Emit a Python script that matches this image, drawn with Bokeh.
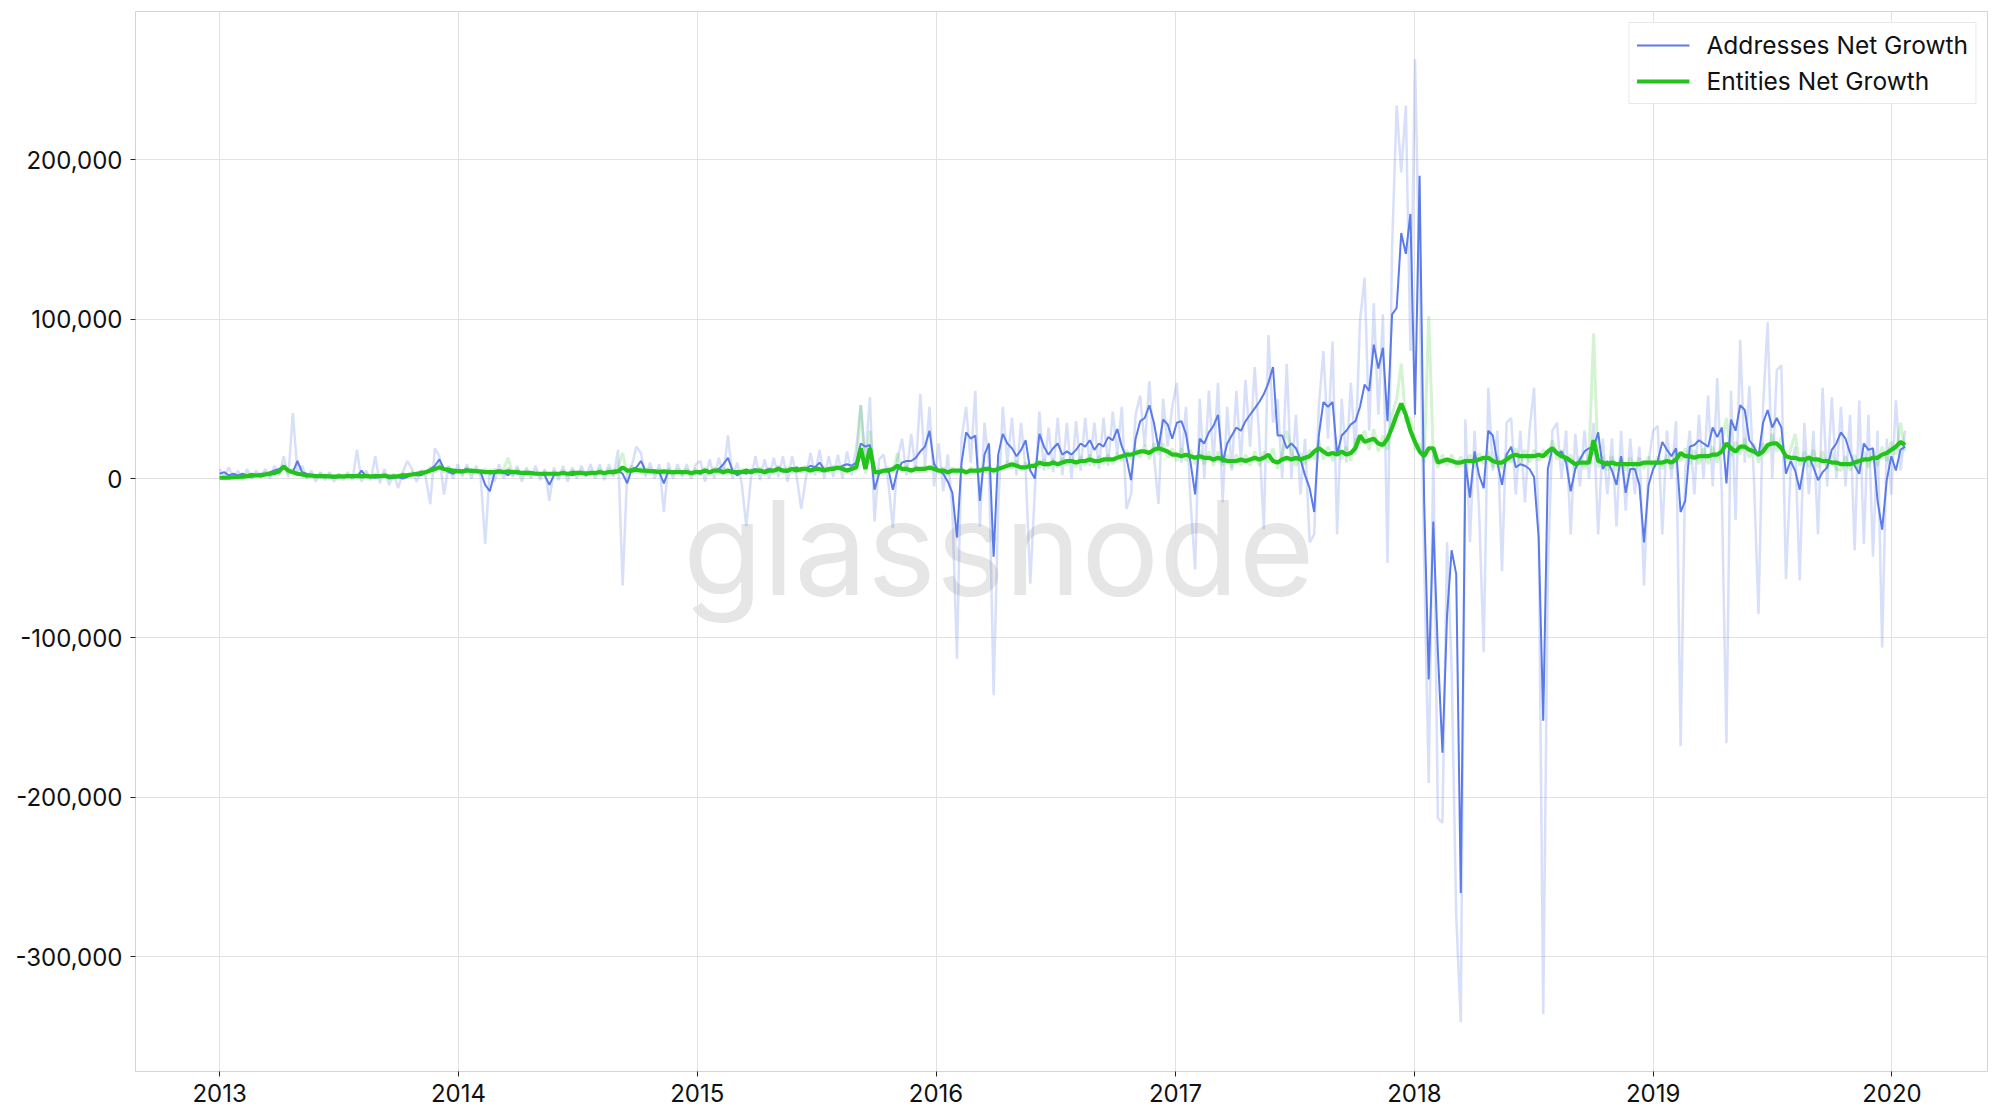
from datetime import datetime
import pandas as pd
from bokeh.plotting import figure
from bokeh.models import (Range1d, FixedTicker, NumeralTickFormatter, DatetimeTickFormatter,
                          Label, Legend, LegendItem)
from bokeh.embed import file_html
from bokeh.resources import INLINE

# ---------------- data (weekly samples from 2013-01-01, values in thousands) ----------------
START = "2013-01-01"
years = [2013, 2014, 2015, 2016, 2017, 2018, 2019, 2020]
y_ticks = [-300000, -200000, -100000, 0, 100000, 200000]
series_names = ["Addresses Net Growth", "Entities Net Growth"]
watermark = "glassnode"

# smoothed addresses net growth (k)
addr_ma_k = [
    3, 4, 2, 3, 2, 3, 2, 3, 2, 3,
    3, 4, 5, 6, 8, 5, 4, 11, 4, 3,
    2, 1.5, 1, 1, 1, 0.5, 1, 1, 1, 1,
    1, 5, 1, 1, 0.5, 1, 2, 0, 0.5, 1,
    0, 1, 3, 2, 2, 4, 6, 8, 12, 6,
    4, 3, 5,
    5, 6, 4, 5, 4, -4, -8, 3, 5, 4,
    2, 5, 3, 4, 3, 4, 3, 3, 2, -4,
    2, 3, 3, 3, 2, 3, 3, 4, 3, 4,
    4, 3, 4, 5, 5, 3, -3, 6, 7, 11,
    5, 5, 5, 4, -3, 5, 4, 4, 4, 4, 4, 4,
    3, 5, 4, 5, 6, 9, 13, 5, 2, 4,
    3, 5, 6, 4, 5, 6, 5, 7, 5, 4,
    6, 7, 5, 6, 8, 7, 10, 6, 5, 7,
    6, 8, 9, 8, 10, 22, 20, 21, -7, 3,
    5, 6, -7, 5, 10, 11, 11, 13, 17, 20, 30, 9,
    5, 3, -2, -9, -37, 10, 29, 25, 27, -14,
    15, 22, -49, 15, 28, 22, 19, 14, 18, 24,
    5, 0, 28, 20, 15, 19, 22, 15, 17, 15,
    18, 22, 20, 24, 18, 22, 20, 26, 24, 31,
    20, 13, -1, 25, 36, 38, 46, 35, 19, 37, 34, 25,
    35, 36, 28, 10, -10, 25, 22, 29, 33, 40,
    10, 22, 27, 32, 30, 36, 40, 44, 48, 53,
    60, 70, 27, 27, 19, 22, 19, 12, 2, -6,
    -21, 27, 48, 45, 48, 15, 27, 30, 34, 36,
    45, 59, 55, 84, 69, 82, 36, 103, 107, 154, 141, 166, 40,
    190, -14, -126, -27, -109, -172, -86, -45, -60, -260,
    10, -12, 17, 2, -6, 30, 27, 10, -4, 15,
    20, 7, 9, 8, 6, 1, -37, -152, 6, 19,
    15, 17, 10, -8, 6, 12, 17, 19, 19, 29,
    6, 11, 5, -4, 14, -9, 6, 6, -4, -40, -4, 6,
    11, 23, 18, 14, 19, -21, -14, 20, 21, 24,
    22, 20, 32, 26, 32, -3, 37, 30, 46, 43,
    24, 20, 14, 35, 43, 32, 38, 32, 3, 11,
    5, -7, 10, 14, 7, -1, 4, 7, 18, 22,
    29, 25, 16, 8, 3, 22, 18, 19, -14, -32, -1, 14, 5, 18, 20,
]

# smoothed entities net growth (k)
ent_ma_k = [
    0.5, 0.5, 0.6, 0.8, 1, 1.2, 1.5, 1.8, 2, 2,
    2.5, 3, 3.5, 4.5, 7.5, 5, 4, 3, 2.5, 2,
    1.8, 1.6, 1.5, 1.5, 1.4, 1.2, 1.3, 1.4, 1.5, 1.5,
    1.5, 1.6, 1.5, 1.4, 1.5, 1.6, 1.8, 1.2, 1.2, 1.5,
    2, 2.2, 2.5, 3, 3.5, 4, 5, 6, 7, 6,
    5.5, 5, 4.5,
    4.5, 5, 5, 4.5, 4.5, 4, 4, 4, 4.5, 4,
    4.5, 4, 4, 3.5, 3.5, 3.5, 3, 3, 3, 3,
    3, 3, 3.5, 3, 3.5, 3.5, 3.5, 3, 3.5, 3.5,
    4, 3.5, 4, 4, 4.5, 7, 5, 5, 5.5, 5,
    5, 4.5, 4.5, 4, 4.5, 4, 4, 4, 4, 4, 3.5, 4,
    4, 5, 4, 5, 5, 4, 5, 4, 4, 4,
    5, 4, 5, 5, 4, 5, 5, 6, 5, 5,
    6, 5, 6, 6, 5, 6, 6, 5, 6, 6,
    7, 6, 5, 6, 7, 19, 6, 19, 4, 4,
    5, 5, 6, 8, 6, 6, 5, 6, 6, 6, 7, 6,
    5, 5, 4, 5, 5, 5, 4, 5, 5, 5,
    6, 6, 5, 6, 7, 8, 9, 8, 7, 7,
    8, 8, 10, 9, 9, 10, 9, 10, 11, 11,
    10, 11, 11, 12, 11, 11, 12, 12, 12, 13,
    14, 15, 15, 16, 17, 17, 16, 18, 19, 18, 17, 15,
    15, 14, 15, 14, 13, 14, 13, 13, 12, 13,
    12, 11, 11, 11, 12, 11, 12, 13, 12, 13,
    15, 11, 10, 12, 13, 12, 13, 12, 13, 14,
    17, 19, 17, 15, 16, 15, 17, 15, 16, 19,
    27, 23, 24, 25, 22, 21, 25, 32, 40, 47, 40, 30, 23,
    17, 14, 19, 19, 10, 11, 12, 11, 10, 10,
    11, 11, 11, 12, 13, 13, 11, 10, 10, 12,
    14, 15, 14, 14, 14, 14, 15, 14, 17, 19,
    16, 14, 13, 11, 9, 10, 10, 10, 24, 11,
    10, 9, 10, 9, 9, 9, 9, 9, 9, 10, 10, 10,
    10, 10, 11, 10, 12, 16, 14, 14, 13, 14,
    14, 14, 15, 15, 17, 22, 19, 17, 20, 20,
    18, 17, 15, 17, 21, 22, 22, 19, 14, 13,
    13, 12, 12, 13, 12, 12, 11, 11, 10, 10,
    9, 9, 9, 10, 11, 12, 12, 13, 13, 15, 16, 18, 20, 23, 21,
]

# raw (unsmoothed) addresses net growth (k)
addr_raw_k = [
    6, 1, 7, 0, 5, -1, 6, 0, 5, 1,
    6, 0, 8, 2, 14, 1, 41, 4, 8, 0,
    5, -2, 4, -1, 4, -2, 3, -1, 4, -1,
    18, -2, 5, -1, 14, -3, 6, -4, 3, -6,
    4, 11, 6, -2, 5, 1, -16, 19, 14, -10,
    8, 0, 9,
    1, 9, 0, 8, 1, -41, 6, -2, 9, 0,
    7, 1, 8, -2, 7, 0, 8, -1, 6, -14,
    7, -1, 8, -2, 7, 0, 8, 1, 9, 0,
    9, -1, 9, 1, 18, -67, 4, 8, 20, 16,
    1, 10, 0, 9, -21, 10, 0, 9, 1, 9, 0, 9,
    11, -2, 12, 0, 13, 2, 27, 0, 10, -3,
    -30, 0, 14, -1, 12, 0, 13, 1, 14, -2,
    14, 1, -19, 0, 16, 2, 18, 0, 14, 1,
    15, 0, 17, 2, 19, 46, 12, 51, -27, 12,
    15, -2, -31, 12, 25, 2, 28, 5, 53, 8, 45, -5,
    22, -8, 15, -20, -113, 25, 45, 10, 55, -30,
    35, 8, -136, -20, 45, 10, 38, 2, 35, 5,
    -66, -8, 42, 5, 32, 4, 38, 2, 35, 0,
    36, 5, 38, 8, 35, 6, 38, 8, 42, 15,
    45, -19, -10, 40, 52, 20, 61, 15, -16, 50, 20, 45,
    60, 10, 45, -15, -57, 50, 0, 55, 10, 60,
    -15, 45, 5, 55, 10, 62, 20, 70, 25, -32,
    90, 35, 50, 0, 72, 0, 40, -10, 25, -40,
    -35, 45, 80, 25, 86, -35, 50, 10, 60, 15,
    99, 126, 30, 110, 40, 103, -53, 145, 234, 192, 234, 80, 263,
    120, -50, -191, 15, -213, -216, -40, -120, -274, -341,
    37, -40, 30, -20, -109, 57, 5, 30, -58, 35,
    38, -10, 30, -15, 30, 57, -30, -336, -60, 30,
    35, 0, 30, -35, 28, -5, 30, 0, 35, -35,
    25, -10, 25, -30, 30, -20, 25, -10, 20, -67, 10, 30,
    33, -35, 30, 0, 36, -168, 5, 30, -10, 40,
    0, 52, -5, 63, -10, -166, 55, -26, 87, 10,
    58, 0, -85, 45, 98, 0, 68, 71, -63, 5,
    20, -64, 35, -10, 30, -35, 57, -5, 51, 0,
    45, -5, 40, -45, 49, -41, 40, -49, 30, -106, 25, -10, 49, 5, 30,
]

# raw (unsmoothed) entities net growth (k)
ent_raw_k = [
    1.5, -0.5, 2, 0, 2, 0.5, 3, 0.5, 3, 1,
    4, 1.5, 5, 3, 9, 3, 6, 2, 4, 1,
    3, 0.5, 3, 0.5, 2.5, 0.5, 2.5, 0.5, 2.5, 0.5,
    3, 0.5, 3, 0.5, 3, 0.5, 3, 0, 2.5, 0.5,
    3.5, 1, 4, 2, 5, 2.5, 7, 4, 9, 4,
    7, 3.5, 6,
    3, 7, 3, 6, 3, 6, 2.5, 6, 3, 6,
    13, 2.5, 6, 2, 5, 2, 4.5, 1.5, 4.5, 1.5,
    4.5, 1.5, 5, 1.5, 5, 2, 5, 1.5, 5, 2,
    6, 2, 6, 2.5, 7, 16, 3, 8, 3.5, 7,
    3, 6.5, 3, 6, 2.5, 6, 2.5, 6, 2.5, 6, 2, 6,
    2, 7, 2, 7, 3, 6.5, 3, 6, 2, 6,
    3, 6, 3, 7, 2, 7, 3, 8, 3, 7,
    4, 7, 4, 8, 3, 8, 4, 7, 4, 8,
    5, 8, 3, 8, 5, 46, 3, 30, 1, 6,
    3, 7, 4, 16, 4, 8, 3, 8, 4, 8, 5, 9,
    3, 7, 2, 7, 3, 7, 2, 7, 3, 7,
    4, 8, 3, 8, 5, 11, 6, 11, 5, 10,
    6, 10, 7, 12, 6, 12, 7, 13, 8, 14,
    7, 14, 8, 15, 8, 14, 9, 15, 9, 16,
    11, 18, 12, 19, 13, 21, 12, 22, 15, 22, 13, 19,
    11, 19, 11, 18, 9, 18, 9, 17, 8, 17,
    8, 15, 7, 15, 8, 15, 8, 17, 8, 17,
    10, 19, 6, 16, 30, 17, 8, 16, 9, 18,
    12, 24, 12, 20, 11, 20, 12, 20, 11, 25,
    22, 30, 18, 31, 17, 27, 18, 40, 50, 72, 35, 38, 18,
    22, 10, 102, 14, 7, 15, 8, 15, 7, 14,
    7, 15, 7, 16, 9, 17, 7, 14, 6, 16,
    10, 19, 10, 18, 10, 18, 11, 18, 13, 24,
    12, 18, 10, 15, 6, 14, 6, 14, 91, 7,
    14, 5, 14, 5, 13, 5, 13, 5, 13, 6, 14, 6,
    14, 6, 15, 6, 17, 11, 19, 9, 18, 9,
    19, 9, 20, 10, 23, 38, 14, 23, 15, 25,
    13, 22, 10, 22, 16, 28, 17, 26, 10, 18,
    28, 8, 17, 7, 18, 7, 17, 6, 16, 6,
    5, 14, 5, 15, 6, 17, 7, 18, 8, 20, 11, 23, 15, 35, 17,
]

# ---------------- styling ----------------
BLUE = "#5a7be8"
GREEN = "#22c31b"
FONT = "Inter"


def weekly(vals_k):
    x = pd.date_range(START, periods=len(vals_k), freq="7D")
    return x, [v * 1000 for v in vals_k]


p = figure(width=1996, height=1111, x_axis_type="datetime",
           output_backend="svg", toolbar_location=None,
           min_border_left=135, min_border_right=9, min_border_top=11, min_border_bottom=40,
           x_range=Range1d(start=datetime(2012, 8, 25, 12), end=datetime(2020, 5, 26)),
           y_range=Range1d(start=-372000, end=293000))

p.background_fill_color = "white"
p.border_fill_color = "white"
p.outline_line_color = "#d4d4d4"
p.outline_line_width = 1

# watermark behind everything
wm_x = pd.Timestamp("2016-04-06").value / 1e6
p.add_layout(Label(x=wm_x, y=-43000, text=watermark, text_align="center",
                   text_baseline="alphabetic", text_font=FONT, text_font_size="130px",
                   text_color="#e6e6e6", level="image"))

xa, ya = weekly(addr_raw_k)
p.line(xa, ya, line_color=BLUE, line_alpha=0.24, line_width=2.5)
xe, ye = weekly(ent_raw_k)
p.line(xe, ye, line_color=GREEN, line_alpha=0.2, line_width=3)

xa2, ya2 = weekly(addr_ma_k)
r_addr = p.line(xa2, ya2, line_color=BLUE, line_width=2)
xe2, ye2 = weekly(ent_ma_k)
r_ent = p.line(xe2, ye2, line_color=GREEN, line_width=4.2)

# axes
year_ticks = [pd.Timestamp(f"{y}-01-01").value / 1e6 for y in years]
p.xaxis.ticker = FixedTicker(ticks=year_ticks)
p.xaxis.formatter = DatetimeTickFormatter(years="%Y", months="%Y", days="%Y", hours="%Y",
                                          minutes="%Y", seconds="%Y", milliseconds="%Y")
p.yaxis.ticker = FixedTicker(ticks=y_ticks)
p.yaxis.formatter = NumeralTickFormatter(format="0,0")

for ax in (p.xaxis, p.yaxis):
    ax.axis_line_color = "#d4d4d4"
    ax.major_tick_line_color = "#222222"
    ax.major_tick_out = 5
    ax.major_tick_in = 0
    ax.minor_tick_line_color = None
    ax.major_label_text_font = FONT
    ax.major_label_text_font_size = "24px"
    ax.major_label_text_color = "#111111"
p.xaxis.major_label_standoff = 7
p.yaxis.major_label_standoff = 8

p.xgrid.grid_line_color = "#e2e2e2"
p.ygrid.grid_line_color = "#e2e2e2"
p.xgrid.grid_line_width = 1
p.ygrid.grid_line_width = 1

legend = Legend(items=[LegendItem(label=series_names[0], renderers=[r_addr]),
                       LegendItem(label=series_names[1], renderers=[r_ent])],
                location="top_right")
legend.margin = 11
legend.padding = 7
legend.spacing = 6
legend.glyph_width = 53
legend.glyph_height = 26
legend.label_height = 26
legend.label_standoff = 17
legend.label_text_font = FONT
legend.label_text_font_size = "24.5px"
legend.label_text_color = "#111111"
legend.border_line_color = "#d4d4d4"
legend.border_line_width = 1
legend.background_fill_color = "white"
legend.background_fill_alpha = 0.9
p.add_layout(legend)

open("out.html", "w").write(file_html(p, INLINE))
